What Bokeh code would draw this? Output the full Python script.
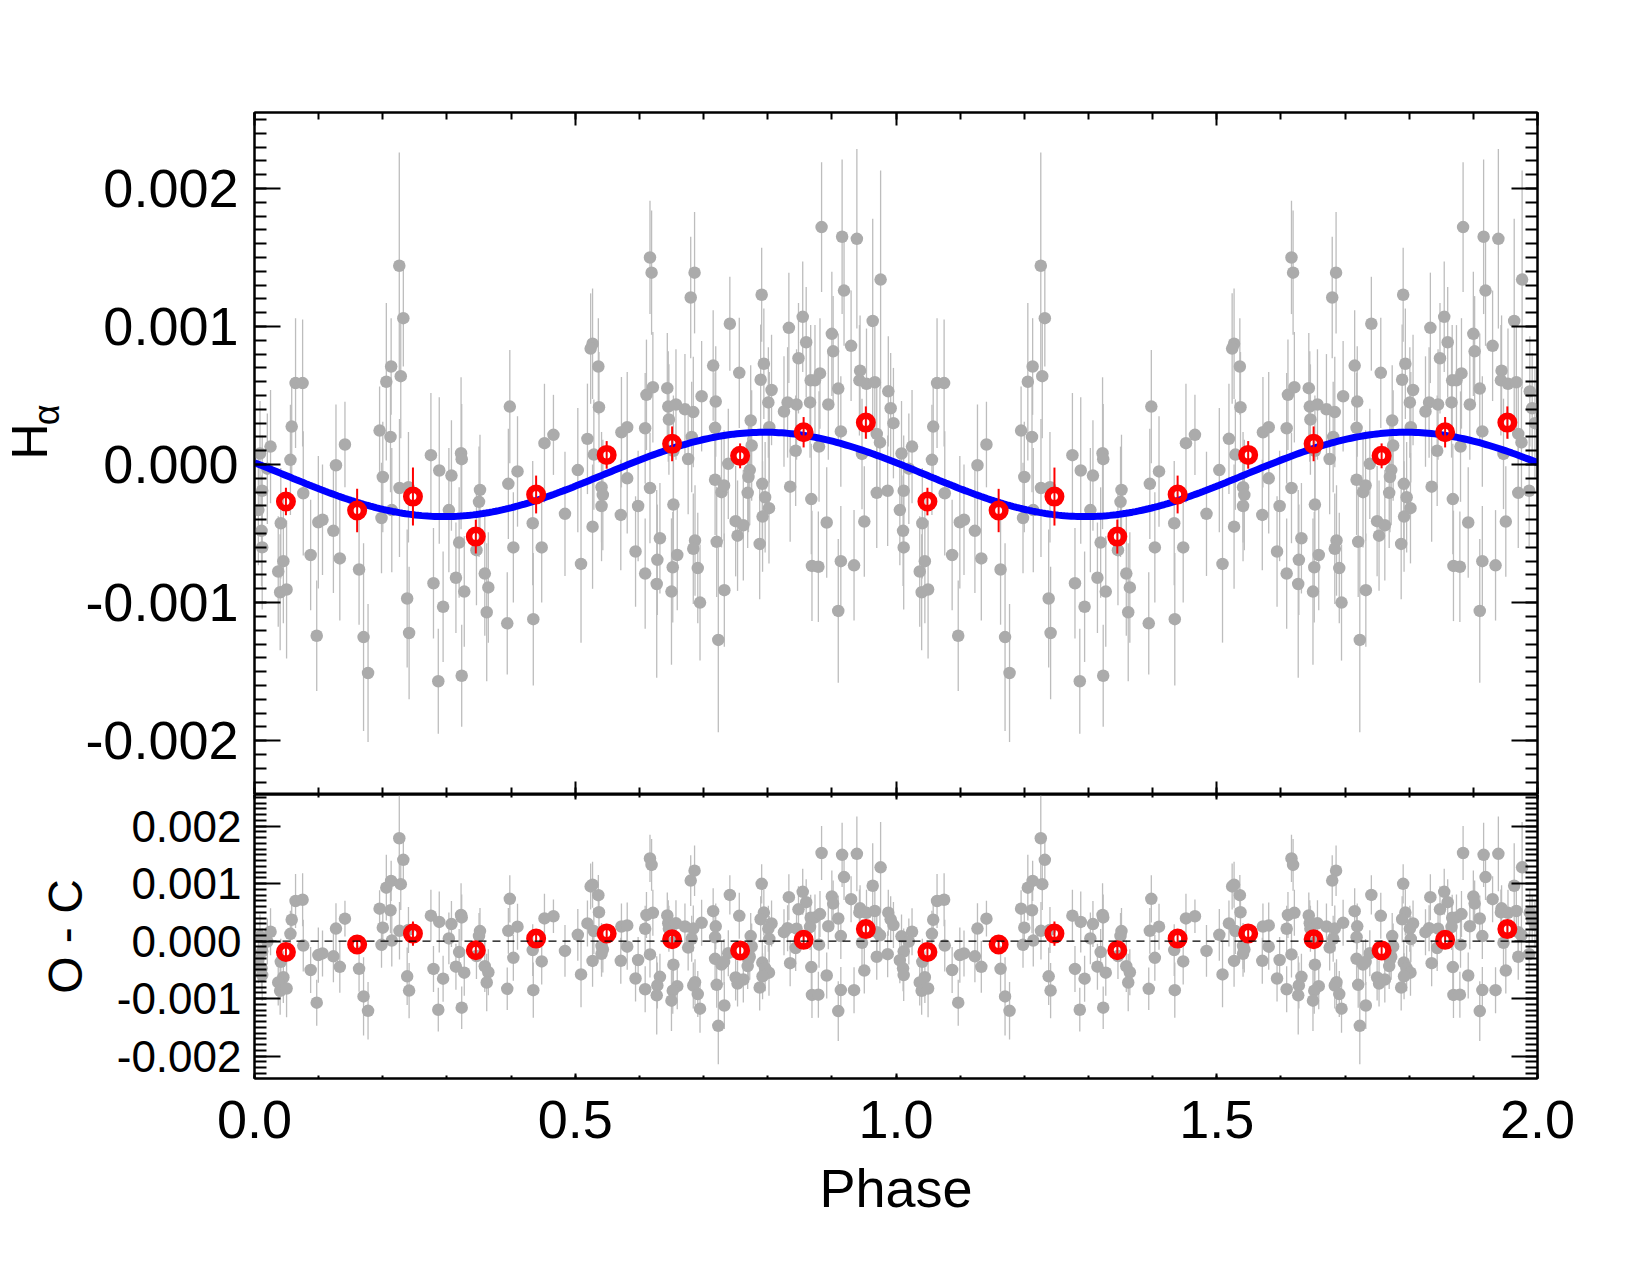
import numpy as np
from bokeh.plotting import figure
from bokeh.models import (Range1d, LinearAxis, FixedTicker, PrintfTickFormatter,
                          CustomJSTickFormatter, Span, ColumnDataSource)
from bokeh.core.properties import value
from bokeh.layouts import column, row
from bokeh.embed import file_html
from bokeh.resources import INLINE

# ---------------- data (one cycle, phase 0-1; plotted twice) ----------------
phase = [0.0086, 0.025, 0.058, 0.056, 0.064, 0.075, 0.127, 0.141, 0.195, 0.2055,
         0.213, 0.212, 0.2257, 0.232, 0.228, 0.275, 0.288, 0.307, 0.322, 0.323,
         0.398, 0.410, 0.452, 0.466, 0.504, 0.200,
         0.012, 0.006, 0.011, 0.012, 0.041, 0.045, 0.037, 0.040, 0.050, 0.076,
         0.0875, 0.097, 0.0995, 0.106, 0.123, 0.133, 0.163, 0.170, 0.177, 0.198,
         0.226, 0.240, 0.214, 0.238, 0.241, 0.279, 0.294, 0.2865, 0.303, 0.319,
         0.314, 0.327, 0.323, 0.3515, 0.350, 0.346, 0.359, 0.3645, 0.362, 0.3957,
         0.4035, 0.394, 0.4337, 0.4477, 0.4346, 0.484, 0.509, 0.020,
         0.527, 0.524, 0.536, 0.537, 0.519, 0.529, 0.572, 0.581, 0.609, 0.611,
         0.621, 0.6165, 0.619, 0.6435, 0.645, 0.646, 0.657, 0.671, 0.684, 0.686,
         0.680, 0.697, 0.715, 0.719, 0.718, 0.741, 0.7557, 0.7735, 0.775, 0.7906,
         0.794, 0.789, 0.806, 0.801, 0.8025, 0.833, 0.831, 0.8254, 0.8546, 0.860,
         0.848, 0.867, 0.8737, 0.8815, 0.845, 0.866, 0.8436, 0.880, 0.8945, 0.884,
         0.916, 0.939, 0.919, 0.900, 0.902, 0.930, 0.910, 0.976, 0.9637, 0.944,
         0.943, 0.954, 0.967, 0.988, 0.9917, 0.996, 0.914, 0.970, 0.975, 0.947,
         0.676, 0.7386, 0.772, 0.770, 0.653, 0.6815,
         0.541, 0.543, 0.541, 0.527, 0.581, 0.571, 0.598, 0.6165, 0.594, 0.609,
         0.632, 0.628, 0.627, 0.653, 0.659, 0.652, 0.650, 0.6867, 0.684, 0.691,
         0.6945, 0.718, 0.728, 0.732, 0.7205, 0.7324, 0.723, 0.7688, 0.750, 0.762,
         0.753, 0.7916, 0.796, 0.802, 0.792, 0.7875, 0.835, 0.868, 0.892, 0.869,
         0.879, 0.914, 0.9346, 0.910, 0.9506, 0.970, 0.987]

halpha = [0.00008, 0.00013, 0.000275, 0.000034, 0.00059, 0.00059, -0.000005, 0.000145, 0.000246, 0.0006,
          0.00071, 0.0002, 0.00144, 0.00106, 0.00064, 0.000068, -0.000043, -0.00008, 0.000082, 0.000039,
          0.00042, -0.00005, 0.000155, 0.000215, -0.00004, -0.00009,
          -0.00019, -0.00033, -0.00048, -0.0006, -0.000425, -0.0007, -0.000775, -0.000925, -0.000905, -0.000208,
          -0.000655, -0.00124, -0.000418, -0.0004, -0.00048, -0.00068, -0.00076, -0.00125, -0.00151, -0.000387,
          -0.00017, -0.000164, -0.00033, -0.00097, -0.00122, -0.00086, -0.00103, -0.00157, -0.00033, -0.000565,
          -0.00082, -0.00092, -0.00153, -0.000184, -0.00027, -0.00062, -0.00079, -0.00089, -0.00107, -0.00014,
          -0.0006, -0.00115, -0.000425, -0.0006, -0.00112, -0.000357, -0.00072, -0.00003,
          0.000875, 0.00084, 0.00071, 0.000415, 0.000186, 0.000072, 0.000234, 0.00027, 0.000263, 0.000505,
          0.00056, 0.0015, 0.00139, 0.000553, 0.00042, 0.000326, 0.000435, 0.0004, 0.00038, 0.00139,
          0.00121, 0.000495, 0.000717, 0.000456, 0.000266, 0.00102, 0.000664, 0.000319, 0.000138, 0.00123,
          0.00073, 0.000614, 0.00054, 0.00045, 0.00027, 0.00099, 0.00045, 0.000384, 0.00107, 0.000886,
          0.00077, 0.00061, 0.00061, 0.00066, 0.000435, 0.00045, 0.0001, 0.00013, 0.000435, 0.00172,
          0.00165, 0.001635, 0.00126, 0.000947, 0.00082, 0.00086, 0.00055, 0.00134, 0.00104, 0.00068,
          0.00061, 0.000585, 0.000596, 0.00053, 0.000408, 0.0003, 0.00024, 0.000222, 0.00016, 0.000077,
          0.00004, 0.000005, -0.00004, -0.00009, 0.0001, 0.0002,
          -0.000164, -0.00022, -0.0003, -0.00045, -0.0001, -0.000365, -0.0003, -0.00017, -0.00063, -0.00079,
          -0.000534, -0.00069, -0.000865, -0.00029, -0.000655, -0.000744, -0.00092, -0.00055, -0.00061, -0.00075,
          -0.001, -0.00011, -0.0002, -0.000152, -0.00056, -0.00091, -0.00127, -0.000205, -0.00041, -0.00044,
          -0.000515, -0.00014, -0.000237, -0.000316, -0.000377, -0.000575, -0.00016, -0.00025, -0.00042, -0.000734,
          -0.00074, -0.0007, -0.00073, -0.00106, -0.000413, -0.000205, -0.00019]

halpha_err = [0.00038, 0.00041, 0.00035, 0.0004, 0.00047, 0.00046, 0.00044, 0.00031, 0.00032, 0.00057,
              0.00035, 0.0004, 0.00082, 0.00035, 0.00045, 0.00045, 0.00053, 0.0004, 0.00055, 0.0004,
              0.00041, 0.0004, 0.00043, 0.00029, 0.00045, 0.0004,
              0.0004, 0.0004, 0.0004, 0.00045, 0.0004, 0.00045, 0.0004, 0.00042, 0.0005, 0.00045,
              0.0004, 0.0004, 0.00048, 0.0004, 0.00045, 0.00045, 0.0004, 0.00068, 0.0005, 0.0004,
              0.0005, 0.0004, 0.00045, 0.0005, 0.00048, 0.0004, 0.0004, 0.00038, 0.00045, 0.0004,
              0.0004, 0.0004, 0.00037, 0.0004, 0.0004, 0.0004, 0.00045, 0.0004, 0.0005, 0.0004,
              0.0004, 0.00037, 0.00045, 0.0004, 0.00048, 0.00045, 0.00057, 0.0004,
              0.0004, 0.0004, 0.00035, 0.0004, 0.0004, 0.0004, 0.0004, 0.0004, 0.0004, 0.0004,
              0.0004, 0.00041, 0.00045, 0.0004, 0.0004, 0.0004, 0.0004, 0.0004, 0.0004, 0.00044,
              0.00044, 0.0004, 0.0004, 0.0004, 0.0004, 0.00034, 0.0004, 0.0004, 0.0004, 0.00034,
              0.0004, 0.0004, 0.0004, 0.0004, 0.0004, 0.0004, 0.0004, 0.0004, 0.0004, 0.0004,
              0.0004, 0.0004, 0.0004, 0.0004, 0.0004, 0.0004, 0.0004, 0.0004, 0.0004, 0.00047,
              0.00056, 0.00065, 0.0004, 0.00045, 0.0004, 0.0004, 0.0004, 0.00079, 0.00074, 0.0004,
              0.0004, 0.0004, 0.0004, 0.0004, 0.0004, 0.0004, 0.0004, 0.0004, 0.0004, 0.0004,
              0.0004, 0.0004, 0.0004, 0.0004, 0.0004, 0.0004,
              0.0004, 0.0004, 0.0004, 0.00045, 0.0004, 0.0004, 0.0004, 0.0004, 0.0004, 0.0004,
              0.0004, 0.0004, 0.00068, 0.0004, 0.0004, 0.0004, 0.00053, 0.0004, 0.0004, 0.0004,
              0.00042, 0.0004, 0.0004, 0.0004, 0.0004, 0.00041, 0.00067, 0.0004, 0.0004, 0.0004,
              0.0004, 0.0004, 0.0004, 0.0004, 0.0004, 0.0004, 0.0004, 0.0004, 0.0004, 0.0004,
              0.0004, 0.0004, 0.0004, 0.00052, 0.0004, 0.0004, 0.0004]

# binned points (red)
bin_phase = [0.049, 0.160, 0.247, 0.345, 0.439, 0.549, 0.651, 0.757, 0.856, 0.953]
bin_value = [-0.000268, -0.000333, -0.000232, -0.000522, -0.000217,
             0.000070, 0.000150, 0.000063, 0.000234, 0.000304]
bin_err = [0.00010, 0.000157, 0.00021, 0.000123, 0.000137,
           0.00010, 0.000126, 0.00009, 0.00011, 0.000117]

# fitted sinusoid (blue) parameters
fit_offset = -0.0000715
fit_amplitude = 0.0003055
fit_phase_of_zero = 0.545

x_ticks = [0.0, 0.5, 1.0, 1.5, 2.0]
y_ticks = [-0.002, -0.001, 0.0, 0.001, 0.002]

y_title_top = ["H", "α"]
y_title_bottom = "O - C"
x_title = "Phase"


def model(ph):
    ph = np.asarray(ph, dtype=float)
    return fit_offset + fit_amplitude * np.sin(2 * np.pi * (ph - fit_phase_of_zero))


ph1 = np.asarray(phase)
val1 = np.asarray(halpha)
err1 = np.asarray(halpha_err)
assert len(ph1) == len(val1) == len(err1)
xs = np.concatenate([ph1, ph1 + 1.0])
ys = np.concatenate([val1, val1])
es = np.concatenate([err1, err1])
rs = ys - model(xs)

bx = np.concatenate([np.asarray(bin_phase), np.asarray(bin_phase) + 1.0])
by = np.concatenate([bin_value, bin_value])
be = np.concatenate([bin_err, bin_err])
br = by - model(bx)

curve_x = np.linspace(0, 2, 400)
curve_y = model(curve_x)

FONT = "Liberation Sans"
GREY_PT = "#ababab"
GREY_BAR = "#bdbdbd"

x_minor = [round(v, 2) for v in np.arange(0.0, 2.001, 0.1)]
y_minor = [round(v, 5) for v in np.arange(-0.0023, 0.00251, 0.0001)]

YR = (-0.00239, 0.00255)
STRIP = 80           # width of the strip that holds the vertical title of the top panel
LEFT = 254           # left border of the panels (frame left edge)


def style_fig(p):
    p.outline_line_color = "black"
    p.outline_line_width = 2
    p.background_fill_color = "white"
    p.border_fill_color = "white"
    p.grid.grid_line_color = None


def add_axis(p, side, dim, show_labels, font_px, maj_in, min_in, standoff):
    ticks = x_ticks if dim == "x" else y_ticks
    minors = x_minor if dim == "x" else y_minor
    ax = LinearAxis(ticker=FixedTicker(ticks=ticks, minor_ticks=minors))
    ax.axis_line_width = 2
    ax.axis_line_color = "black"
    ax.major_tick_line_width = 2
    ax.minor_tick_line_width = 2
    ax.major_tick_in = maj_in
    ax.major_tick_out = 0
    ax.minor_tick_in = min_in
    ax.minor_tick_out = 0
    if show_labels:
        ax.formatter = PrintfTickFormatter(format="%.1f" if dim == "x" else "%.3f")
        ax.major_label_text_font = FONT
        ax.major_label_text_font_size = f"{font_px}px"
        ax.major_label_text_color = "black"
        ax.major_label_standoff = standoff
    else:
        ax.formatter = CustomJSTickFormatter(code="return ''")
        ax.major_label_text_font_size = "1px"
        ax.major_label_standoff = 0
    p.add_layout(ax, side)
    return ax


xr = Range1d(0, 2)

# ---------------- top panel ----------------
p1 = figure(frame_width=1283, frame_height=682, x_range=xr, y_range=Range1d(*YR),
            min_border_left=LEFT - STRIP, min_border_right=113, min_border_top=112,
            min_border_bottom=0, output_backend="svg", toolbar_location=None,
            x_axis_location=None, y_axis_location=None)
style_fig(p1)
add_axis(p1, "left", "y", True, 54, 26, 12, 16)
add_axis(p1, "right", "y", False, 0, 26, 12, 0)
add_axis(p1, "above", "x", False, 0, 13, 7, 0)
add_axis(p1, "below", "x", False, 0, 13, 7, 0)

src = ColumnDataSource(dict(x=xs, y=ys, lo=ys - es, hi=ys + es, r=rs, rlo=rs - es, rhi=rs + es))
bsrc = ColumnDataSource(dict(x=bx, y=by, lo=by - be, hi=by + be, r=br, rlo=br - be, rhi=br + be))

p1.segment(x0="x", y0="lo", x1="x", y1="hi", source=src, line_color=GREY_BAR, line_width=1.3)
p1.scatter(x="x", y="y", source=src, size=12.5, fill_color=GREY_PT, line_color=None)
p1.line(curve_x, curve_y, line_color="#0000ff", line_width=7)
p1.segment(x0="x", y0="lo", x1="x", y1="hi", source=bsrc, line_color="red", line_width=2)
p1.scatter(x="x", y="y", source=bsrc, size=13.5, fill_color=None, line_color="red", line_width=6.5)

# strip on the left of the top panel holding the subscripted title (pixel coordinates)
strip = figure(width=STRIP, height=794, x_range=Range1d(0, STRIP), y_range=Range1d(794, 0),
               min_border=0, output_backend="svg", toolbar_location=None,
               x_axis_location=None, y_axis_location=None)
strip.outline_line_color = None
strip.grid.grid_line_color = None
strip.border_fill_color = "white"
strip.background_fill_color = "white"
strip.text(x=[29], y=[404], text=[y_title_top[0]], angle=np.pi / 2,
           text_font=value(FONT), text_font_size=value("50px"), text_align="left",
           text_baseline="middle", text_color="black")
strip.text(x=[46], y=[364], text=[y_title_top[1]], angle=np.pi / 2,
           text_font=value(FONT), text_font_size=value("36px"), text_align="left",
           text_baseline="middle", text_color="black")

# ---------------- bottom panel ----------------
p2 = figure(frame_width=1283, frame_height=284, x_range=xr, y_range=Range1d(*YR),
            min_border_left=LEFT, min_border_right=113, min_border_top=0, min_border_bottom=197,
            output_backend="svg", toolbar_location=None,
            x_axis_location=None, y_axis_location=None)
style_fig(p2)
ly2 = add_axis(p2, "left", "y", True, 44, 26, 12, 13)
ly2.axis_label = y_title_bottom
ly2.axis_label_text_font = FONT
ly2.axis_label_text_font_size = "48px"
ly2.axis_label_text_font_style = "normal"
ly2.axis_label_text_color = "black"
ly2.axis_label_standoff = 22
add_axis(p2, "right", "y", False, 0, 26, 12, 0)
add_axis(p2, "above", "x", False, 0, 5, 3, 0)
bx_axis = add_axis(p2, "below", "x", True, 54, 5, 3, 22)
bx_axis.axis_label = x_title
bx_axis.axis_label_text_font = FONT
bx_axis.axis_label_text_font_size = "54px"
bx_axis.axis_label_text_font_style = "normal"
bx_axis.axis_label_text_color = "black"
bx_axis.axis_label_standoff = 17

p2.segment(x0="x", y0="rlo", x1="x", y1="rhi", source=src, line_color=GREY_BAR, line_width=1.3)
p2.scatter(x="x", y="r", source=src, size=12.5, fill_color=GREY_PT, line_color=None)
p2.add_layout(Span(location=0, dimension="width", line_color="black", line_width=1.2,
                   line_dash="8 6"))
p2.segment(x0="x", y0="rlo", x1="x", y1="rhi", source=bsrc, line_color="red", line_width=2)
p2.scatter(x="x", y="r", source=bsrc, size=13.5, fill_color=None, line_color="red", line_width=6.5)

layout = column(row(strip, p1, spacing=0), p2, spacing=0)
open("out.html", "w").write(file_html(layout, INLINE))
